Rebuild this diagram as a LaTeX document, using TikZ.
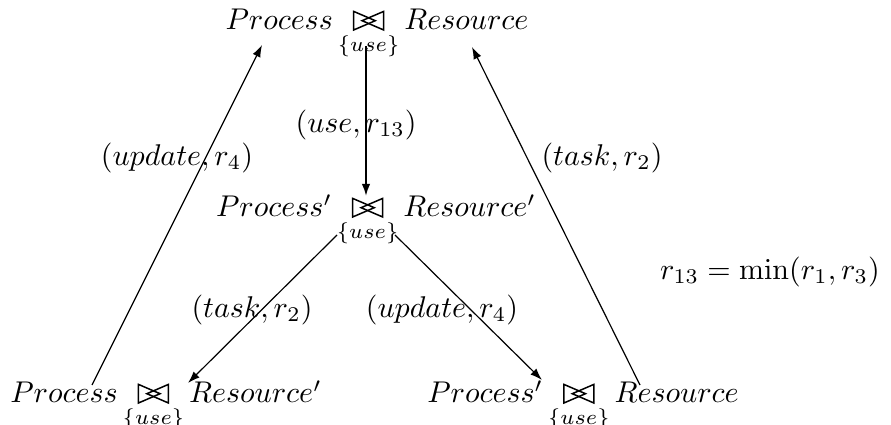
\documentclass[tikz,border=0pt]{standalone}
\usepackage{amsmath}
\usetikzlibrary{arrows.meta}

% Cooperation operator: two overlapping triangles between vertical bars
\newcommand{\coopsym}{\tikz[baseline=0pt,x=1pt,y=1pt]{%
  \draw[line width=0.5pt,line join=miter] (0,0)--(0,6.2)--(7.2,3.1)--cycle;
  \draw[line width=0.5pt,line join=miter] (10,0)--(10,6.2)--(2.8,3.1)--cycle;}}
\newcommand{\coop}{\mathop{\coopsym}\limits_{\{use\}}}

\begin{document}
\begin{tikzpicture}[x=0.3333pt,y=-0.3333pt,
  term/.style={inner sep=0pt,anchor=base},
  lbl/.style={inner sep=0pt},
  trans/.style={-{Latex[length=4pt,width=2.8pt]},line width=0.4pt}]
\useasboundingbox (0,0) rectangle (891,425);

% states
\node[term] (top) at (377,30)  {$Process \coop Resource$};
\node[term] (mid) at (376,217) {$Process' \coop Resource'$};
\node[term] (bl)  at (166,403) {$Process \coop Resource'$};
\node[term] (br)  at (583,403) {$Process' \coop Resource$};

% transitions
\draw[trans,line width=0.6pt] ([shift={(-11,16)}]top.base) -- ([shift={(-10,-21)}]mid.base);
\draw[trans] ([shift={(-39,18)}]mid.base) -- ([shift={(22,-20)}]bl.base);
\draw[trans] ([shift={(19,18)}]mid.base) -- ([shift={(-41,-23)}]br.base);
\draw[trans] ([shift={(-74,-18)}]bl.base) -- ([shift={(-115,15)}]top.base);
\draw[trans] ([shift={(57,-18)}]br.base) -- ([shift={(95,17)}]top.base);

% labels
\node[lbl] (l1) at (356,125) {$(use, r_{13})$};
\node[lbl] (l2) at (177,158) {$(update, r_4)$};
\node[lbl] (l3) at (602,158) {$(task, r_2)$};
\node[lbl] (l4) at (252,310) {$(task, r_2)$};
\node[lbl] (l5) at (442,310) {$(update, r_4)$};
\node[lbl] (eq) at (770,272) {$r_{13} = \min(r_1, r_3)$};
\end{tikzpicture}
\end{document}
